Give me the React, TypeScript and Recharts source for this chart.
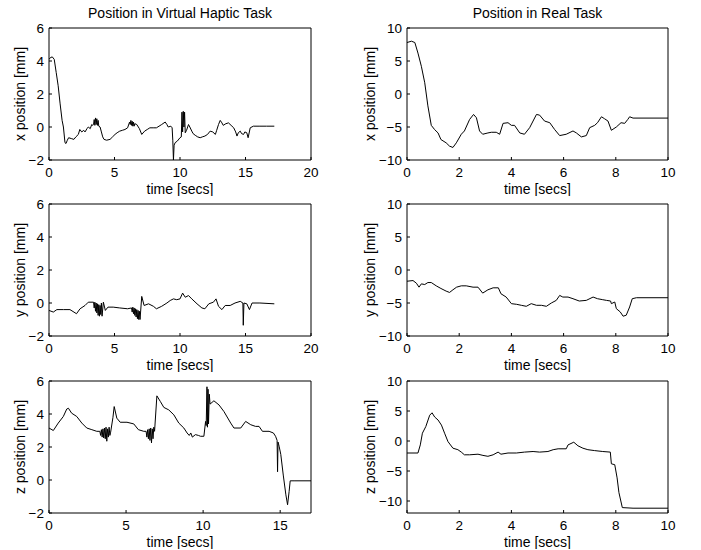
import React from 'react';
import { LineChart, Line, XAxis, YAxis } from 'recharts';

const FONT = '"Liberation Sans", Arial, Helvetica, sans-serif';
const FS_TICK = 13.5;
const FS_LABEL = 14;

type Pt = [number, number];

// Titles and labels
const titleVirtual = 'Position in Virtual Haptic Task';
const titleReal = 'Position in Real Task';
const xLabel = 'time [secs]';
const yLabels = ['x position [mm]', 'y position [mm]', 'z position [mm]'];

// Tick sets
const ticksVirtualT = [0, 5, 10, 15, 20];
const ticksVirtualTz = [0, 5, 10, 15];
const ticksRealT = [0, 2, 4, 6, 8, 10];
const ticksVirtualPos = [-2, 0, 2, 4, 6];
const ticksRealPos = [-10, -5, 0, 5, 10];

// Virtual haptic task: x position
const virtualX: Pt[] = [
  [0, 4.1], [0.1, 4.2], [0.25, 4.25], [0.4, 4.1], [0.55, 3.3], [0.7, 2.5], [0.85, 1.4], [1.0, 0.4],
  [1.1, 0], [1.22, -0.95], [1.3, -1.0], [1.4, -0.8], [1.5, -0.65], [1.7, -0.7], [1.9, -0.75],
  [2.05, -0.6], [2.24, -0.45], [2.35, -0.15], [2.5, -0.3], [2.65, -0.2], [2.75, -0.3], [2.9, -0.1],
  [3.0, 0], [3.15, -0.1], [3.26, 0.15], [3.35, 0.1], [3.4, 0.15], [3.45, 0.45], [3.5, 0.1],
  [3.55, 0.55], [3.6, 0.15], [3.65, 0.5], [3.7, 0.1], [3.75, 0.4], [3.8, 0.05], [3.9, 0.0],
  [4.0, -0.3], [4.1, -0.6], [4.2, -0.75], [4.4, -0.8], [4.66, -0.75], [4.85, -0.6], [5.04, -0.45],
  [5.2, -0.35], [5.4, -0.25], [5.6, -0.2], [5.8, -0.15], [6.0, -0.05], [6.15, 0.3], [6.2, 0.15],
  [6.25, 0.4], [6.3, 0.1], [6.35, 0.35], [6.4, 0.05], [6.45, 0.3], [6.5, 0.05], [6.55, 0.2],
  [6.7, 0.15], [6.9, -0.1], [7.08, -0.45], [7.3, -0.25], [7.5, -0.15], [7.7, -0.05], [7.95, -0.05],
  [8.2, -0.05], [8.4, 0.05], [8.6, 0.15], [8.87, 0.3], [9.0, 0.15], [9.1, 0.0], [9.3, 0.05],
  [9.4, -0.05], [9.45, -0.8], [9.5, -2.0], [9.55, -1.1], [9.63, -0.95], [9.8, -0.85], [10.0, -0.65],
  [10.1, -0.6], [10.15, 0.9], [10.2, -0.3], [10.25, 0.95], [10.3, 0.0], [10.35, 0.9], [10.4, -0.35],
  [10.5, -0.2], [10.65, 0.15], [10.75, 0.0], [10.9, -0.25], [11.0, -0.4], [11.16, -0.5],
  [11.35, -0.6], [11.54, -0.65], [11.7, -0.6], [11.9, -0.55], [12.1, -0.45], [12.3, -0.25],
  [12.5, -0.3], [12.7, -0.45], [12.8, -0.2], [12.94, 0.15], [13.07, 0.4], [13.2, 0.25], [13.3, 0.1],
  [13.5, 0.2], [13.7, 0.25], [13.9, 0.1], [14.1, -0.05], [14.25, -0.3], [14.35, -0.55], [14.45, -0.35],
  [14.6, -0.25], [14.7, -0.4], [14.85, -0.45], [14.95, -0.3], [15.1, -0.35], [15.2, -0.65],
  [15.36, -0.05], [15.6, 0.05], [16.1, 0.05], [16.6, 0.05], [17.2, 0.05],
];

// Real task: x position
const realX: Pt[] = [
  [0, 7.8], [0.17, 8.0], [0.3, 7.8], [0.42, 6.2], [0.55, 4.2], [0.68, 1.7], [0.8, -1.8], [0.93, -4.75],
  [1.06, -5.4], [1.19, -5.9], [1.3, -6.9], [1.5, -7.4], [1.63, -7.9], [1.76, -8.1], [1.89, -7.4],
  [2.08, -6.1], [2.2, -5.6], [2.4, -3.85], [2.55, -3.1], [2.66, -3.6], [2.78, -5.6], [2.9, -6.1],
  [3.1, -5.9], [3.23, -5.8], [3.42, -5.8], [3.55, -6.1], [3.68, -4.45], [3.87, -4.35], [4.0, -4.75],
  [4.12, -4.75], [4.32, -5.9], [4.5, -6.1], [4.7, -5.1], [4.96, -3.1], [5.08, -3.2], [5.27, -4.1],
  [5.47, -4.35], [5.66, -5.4], [5.85, -6.3], [6.1, -6.1], [6.36, -5.6], [6.49, -5.9], [6.68, -6.5],
  [6.87, -6.3], [7.0, -5.1], [7.19, -4.75], [7.3, -4.35], [7.45, -3.45], [7.57, -3.75], [7.7, -4.1],
  [7.83, -5.5], [8.02, -5.0], [8.2, -4.35], [8.34, -4.45], [8.46, -3.85], [8.53, -3.45], [8.66, -3.65],
  [10, -3.65],
];

// Virtual haptic task: y position
const virtualY: Pt[] = [
  [0, -0.45], [0.33, -0.55], [0.6, -0.4], [1.1, -0.4], [1.6, -0.4], [2.1, -0.65], [2.37, -0.35],
  [2.75, -0.15], [3.0, 0.05], [3.4, 0.05], [3.45, -0.3], [3.5, 0.05], [3.55, -0.5], [3.6, 0.0],
  [3.65, -0.6], [3.7, -0.05], [3.75, -0.75], [3.8, -0.1], [3.85, -0.8], [3.9, -0.15], [3.95, -0.7],
  [4.0, 0.0], [4.05, -0.8], [4.15, 0.05], [4.3, -0.45], [4.5, -0.25], [4.9, -0.25], [5.4, -0.3],
  [6.0, -0.35], [6.3, -0.3], [6.35, -0.55], [6.4, -0.25], [6.45, -0.65], [6.5, -0.3], [6.55, -0.75],
  [6.6, -0.35], [6.65, -0.85], [6.7, -0.4], [6.75, -0.95], [6.8, -0.45], [6.85, -1.0], [6.9, -0.5],
  [6.95, -1.0], [7.08, 0.4], [7.26, -0.15], [7.6, -0.05], [7.97, -0.2], [8.2, -0.35], [8.6, -0.2],
  [9.0, 0], [9.25, 0.15], [9.5, 0.25], [9.75, 0.2], [10.0, 0.25], [10.2, 0.6], [10.4, 0.35],
  [10.65, 0.45], [10.9, 0.25], [11.3, -0.05], [11.67, -0.3], [11.9, -0.35], [12.2, -0.05],
  [12.55, 0.05], [12.75, 0.25], [12.94, -0.2], [13.2, -0.4], [13.45, -0.15], [13.83, -0.15],
  [14.2, 0], [14.6, 0.1], [14.8, 0], [14.83, -1.35], [14.88, 0], [15.1, -0.05], [15.3, -0.4],
  [15.5, 0], [16.1, 0], [17.2, -0.05],
];

// Real task: y position
const realY: Pt[] = [
  [0, -1.7], [0.23, -1.6], [0.36, -2.0], [0.46, -2.6], [0.55, -2.1], [0.68, -2.2], [0.8, -1.9],
  [0.93, -1.9], [1.12, -2.4], [1.3, -2.8], [1.5, -3.2], [1.63, -3.4], [1.76, -3.0], [1.9, -2.6],
  [2.08, -2.4], [2.27, -2.4], [2.53, -2.6], [2.72, -2.6], [2.9, -3.5], [3.1, -3.0], [3.3, -2.7],
  [3.5, -2.7], [3.6, -3.6], [3.8, -4.1], [4.0, -5.1], [4.2, -5.2], [4.38, -5.35], [4.57, -5.5],
  [4.76, -5.1], [4.96, -5.35], [5.15, -5.35], [5.34, -5.5], [5.53, -5.0], [5.72, -4.6], [5.85, -3.85],
  [5.97, -4.1], [6.17, -4.1], [6.36, -4.35], [6.6, -4.7], [6.87, -4.6], [7.13, -4.1], [7.3, -4.35],
  [7.5, -4.5], [7.64, -4.6], [7.8, -4.7], [7.83, -5.1], [7.96, -4.85], [8.02, -5.85], [8.17, -6.35],
  [8.28, -7.0], [8.4, -6.85], [8.53, -5.6], [8.63, -4.35], [8.79, -4.2], [10, -4.2],
];

// Virtual haptic task: z position
const virtualZ: Pt[] = [
  [0, 3.15], [0.28, 3.0], [0.6, 3.45], [0.93, 3.85], [1.15, 4.3], [1.26, 4.35], [1.47, 4.05],
  [1.8, 3.85], [2.13, 3.45], [2.45, 3.15], [2.78, 3.05], [3.1, 2.95], [3.3, 2.95], [3.35, 2.7],
  [3.4, 3.05], [3.45, 2.6], [3.5, 3.1], [3.55, 2.55], [3.6, 3.15], [3.65, 2.5], [3.7, 3.2],
  [3.75, 2.35], [3.8, 3.1], [3.85, 2.6], [3.9, 3.2], [3.95, 2.7], [4.0, 2.9], [4.15, 3.8],
  [4.23, 4.45], [4.4, 3.75], [4.62, 3.5], [5.06, 3.5], [5.5, 3.4], [5.8, 3.05], [6.15, 2.95],
  [6.3, 2.95], [6.35, 2.6], [6.4, 3.05], [6.45, 2.5], [6.5, 3.1], [6.55, 2.4], [6.6, 3.15],
  [6.65, 2.25], [6.7, 3.1], [6.75, 2.5], [6.8, 3.2], [6.85, 2.95], [7.0, 5.1], [7.23, 4.75],
  [7.45, 4.4], [7.77, 4.25], [8.1, 3.95], [8.42, 3.45], [8.75, 3.15], [8.96, 2.85], [9.1, 2.7],
  [9.2, 2.85], [9.3, 2.6], [9.5, 2.75], [9.7, 2.7], [9.83, 2.65], [10.05, 2.65], [10.16, 3.55],
  [10.2, 3.3], [10.25, 5.65], [10.28, 3.2], [10.32, 5.5], [10.35, 3.4], [10.4, 5.2], [10.45, 4.6],
  [10.7, 4.8], [11.03, 4.55], [11.35, 4.15], [11.79, 3.45], [12.0, 3.15], [12.44, 3.15],
  [12.76, 3.55], [13.09, 3.35], [13.4, 3.25], [13.63, 3.25], [13.85, 2.95], [14.28, 2.95],
  [14.56, 2.85], [14.7, 2.65], [14.8, 2.4], [14.83, 0.5], [14.86, 2.3], [14.93, 2.05], [15.04, 1.55],
  [15.2, 0.3], [15.37, -0.9], [15.48, -1.5], [15.58, -0.7], [15.65, -0.05], [15.9, -0.05],
  [17.0, -0.05],
];

// Real task: z position
const realZ: Pt[] = [
  [0, -2.0], [0.42, -2.0], [0.51, -0.65], [0.59, 1.3], [0.72, 2.4], [0.87, 4.3], [0.96, 4.7],
  [1.06, 4.0], [1.19, 3.5], [1.32, 2.65], [1.44, 1.3], [1.57, -0.1], [1.76, -1.2], [1.95, -1.45],
  [2.08, -1.85], [2.2, -2.3], [2.4, -2.3], [2.72, -2.2], [2.91, -2.4], [3.1, -2.55], [3.3, -2.3],
  [3.49, -1.85], [3.6, -2.2], [3.87, -2.0], [4.19, -2.0], [4.5, -1.85], [4.83, -1.75], [5.08, -1.85],
  [5.4, -1.75], [5.6, -1.45], [5.79, -1.3], [6.1, -1.3], [6.17, -0.65], [6.39, -0.2], [6.55, -0.8],
  [6.74, -1.2], [6.93, -1.45], [7.19, -1.6], [7.5, -1.75], [7.79, -1.85], [7.83, -3.8], [7.96, -3.95],
  [8.05, -6.15], [8.12, -8.6], [8.25, -11.1], [8.66, -11.2], [10, -11.2],
];

const fmt = (v: number) => (v < 0 ? '\u2212' + Math.abs(v) : String(v));

const tickStyle = { fill: '#000', fontSize: FS_TICK, fontFamily: FONT };
const labelStyle = { fill: '#000', fontSize: FS_LABEL, fontFamily: FONT };

type PanelProps = {
  plotLeft: number;
  plotTop: number;
  plotW: number;
  plotH: number;
  data: Pt[];
  xDomain: [number, number];
  xTicks: number[];
  yDomain: [number, number];
  yTicks: number[];
  yLabel: string;
  yLabelGap: number;
  title?: string;
};

function Panel(p: PanelProps) {
  const yAxisW = 49;
  const marginTop = 28;
  const xAxisH = 34;
  const rows = p.data.map(([t, v]) => ({ t, v }));
  const w = yAxisW + p.plotW + 10;
  const h = marginTop + p.plotH + xAxisH + 2;
  return (
    <div style={{ position: 'absolute', left: p.plotLeft - yAxisW, top: p.plotTop - marginTop, width: w, height: h }}>
      <LineChart width={w} height={h} data={rows} margin={{ top: marginTop - 1, right: 9, bottom: 2, left: 0 }}>
        <XAxis
          xAxisId="b"
          type="number"
          dataKey="t"
          domain={p.xDomain}
          ticks={p.xTicks}
          interval={0}
          allowDataOverflow
          tickSize={-3}
          tickMargin={10}
          height={xAxisH}
          stroke="#000"
          tick={tickStyle}
          tickFormatter={fmt}
          label={{ value: xLabel, position: 'insideBottom', offset: 0, ...labelStyle }}
        />
        <XAxis
          xAxisId="t"
          orientation="top"
          type="number"
          dataKey="t"
          domain={p.xDomain}
          ticks={p.xTicks}
          interval={0}
          allowDataOverflow
          tickSize={-3}
          height={1}
          stroke="#000"
          tick={false}
          label={p.title ? { value: p.title, position: 'top', offset: 9, ...labelStyle } : undefined}
        />
        <YAxis
          yAxisId="l"
          type="number"
          domain={p.yDomain}
          ticks={p.yTicks}
          interval={0}
          allowDataOverflow
          tickSize={-3}
          tickMargin={8}
          width={yAxisW}
          stroke="#000"
          tick={tickStyle}
          tickFormatter={fmt}
          label={{
            value: p.yLabel,
            angle: -90,
            position: 'insideLeft',
            offset: yAxisW - p.yLabelGap,
            ...labelStyle,
            style: { textAnchor: 'middle' },
          }}
        />
        <YAxis
          yAxisId="r"
          orientation="right"
          type="number"
          domain={p.yDomain}
          ticks={p.yTicks}
          interval={0}
          allowDataOverflow
          tickSize={-3}
          width={1}
          stroke="#000"
          tick={false}
        />
        <Line
          xAxisId="b"
          yAxisId="l"
          type="linear"
          dataKey="v"
          stroke="#000"
          strokeWidth={1}
          dot={false}
          activeDot={false}
          isAnimationActive={false}
        />
      </LineChart>
    </div>
  );
}

const col1 = { plotLeft: 49, plotW: 262, yLabelGap: 29 };
const col2 = { plotLeft: 407, plotW: 261, yLabelGap: 37 };
const row1 = { plotTop: 28, plotH: 132 };
const row2 = { plotTop: 204, plotH: 132 };
const row3 = { plotTop: 381, plotH: 132 };

export default function App() {
  return (
    <div style={{ position: 'absolute', left: 0, top: 0, width: 701, height: 550, background: '#fff', overflow: 'hidden' }}>
      <Panel {...col1} {...row1} data={virtualX} xDomain={[0, 20]} xTicks={ticksVirtualT} yDomain={[-2, 6]} yTicks={ticksVirtualPos} yLabel={yLabels[0]} title={titleVirtual} />
      <Panel {...col2} {...row1} data={realX} xDomain={[0, 10]} xTicks={ticksRealT} yDomain={[-10, 10]} yTicks={ticksRealPos} yLabel={yLabels[0]} title={titleReal} />
      <Panel {...col1} {...row2} data={virtualY} xDomain={[0, 20]} xTicks={ticksVirtualT} yDomain={[-2, 6]} yTicks={ticksVirtualPos} yLabel={yLabels[1]} />
      <Panel {...col2} {...row2} data={realY} xDomain={[0, 10]} xTicks={ticksRealT} yDomain={[-10, 10]} yTicks={ticksRealPos} yLabel={yLabels[1]} />
      <Panel {...col1} {...row3} data={virtualZ} xDomain={[0, 17]} xTicks={ticksVirtualTz} yDomain={[-2, 6]} yTicks={ticksVirtualPos} yLabel={yLabels[2]} />
      <Panel {...col2} {...row3} data={realZ} xDomain={[0, 10]} xTicks={ticksRealT} yDomain={[-12, 10]} yTicks={ticksRealPos} yLabel={yLabels[2]} />
    </div>
  );
}
